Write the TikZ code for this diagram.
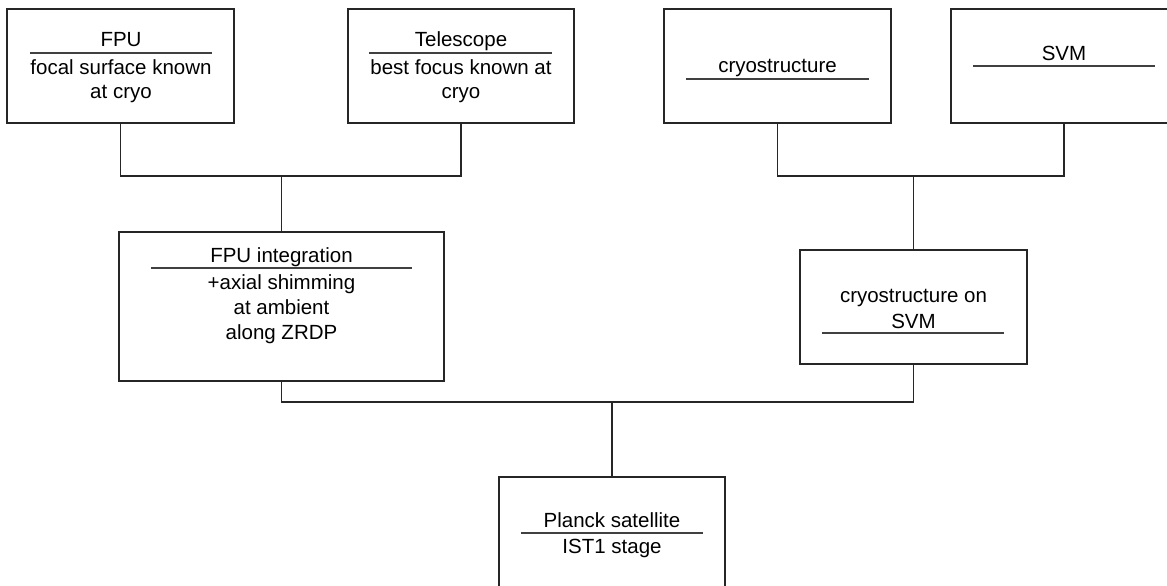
\documentclass[tikz,border=0pt]{standalone}
\usepackage{fontspec}
\setmainfont{Liberation Sans}
\usetikzlibrary{positioning}

\begin{document}
\begin{tikzpicture}[x=1pt, y=-1pt,
  box/.style={draw=black!85, line width=1.3pt, minimum width=227pt, minimum height=114pt, inner sep=0pt},
  lbl/.style={font=\fontsize{20.5}{24.5}\selectfont, align=center, inner sep=0pt, anchor=base},
  rule/.style={draw=black!75, line width=1.3pt},
  link/.style={draw=black!85, line width=1.3pt},
]
\useasboundingbox (0,0) rectangle (1167,586);

% Boxes
\node[box] (fpu)    at (120.5,66) {};
\node[box, minimum width=226pt] (tel)  at (461,66)   {};
\node[box] (cryo)   at (777.5,66) {};
\node[box, minimum width=226pt] (svm)  at (1064,66)  {};
\node[box, minimum width=325pt, minimum height=149pt] (integ) at (281.5,306.5) {};
\node[box] (cryosvm) at (913.5,307) {};
\node[box, minimum width=226pt] (planck) at (612,534) {};

% Texts (base = last line)
\node[lbl] (fpu-t)   at (121,47)   {FPU};
\node[lbl] (fpu-b)   at (121,99)   {focal surface known\\at cryo};
\node[lbl] (tel-t)   at (461,47)   {Telescope};
\node[lbl] (tel-b)   at (461,99)   {best focus known at\\cryo};
\node[lbl] (cryo-t)  at (777.5,73) {cryostructure};
\node[lbl] (svm-t)   at (1064,60)  {SVM};
\node[lbl] (integ-t) at (281.5,262) {FPU integration};
\node[lbl, font=\fontsize{20.5}{25}\selectfont] (integ-b) at (281.5,339) {+axial shimming\\at ambient\\along ZRDP};
\node[lbl, font=\fontsize{20.5}{26}\selectfont] (cryosvm-t) at (913.5,328) {cryostructure on\\SVM};
\node[lbl] (planck-t) at (612,527) {Planck satellite};
\node[lbl] (planck-b) at (612,553) {IST1 stage};

% Rules
\draw[rule] (30,53)   -- (212,53);
\draw[rule] (369,53)  -- (552,53);
\draw[rule] (686,79)  -- (869,79);
\draw[rule] (973,66)  -- (1155,66);
\draw[rule] (151,268) -- (412,268);
\draw[rule] (822,333) -- (1004,333);
\draw[rule] (521,533) -- (703,533);

% Links
\coordinate (j1) at (281.5,176);
\coordinate (j2) at (913.5,176);
\coordinate (j3) at (612,402);
\draw[link] (fpu.south) |- (j1) -| (tel.south);
\draw[link] (j1) -- (integ.north);
\draw[link] (cryo.south) |- (j2) -| (svm.south);
\draw[link] (j2) -- (cryosvm.north);
\draw[link] (integ.south) |- (j3) -| (cryosvm.south);
\draw[link] (j3) -- (planck.north);

\end{tikzpicture}
\end{document}
